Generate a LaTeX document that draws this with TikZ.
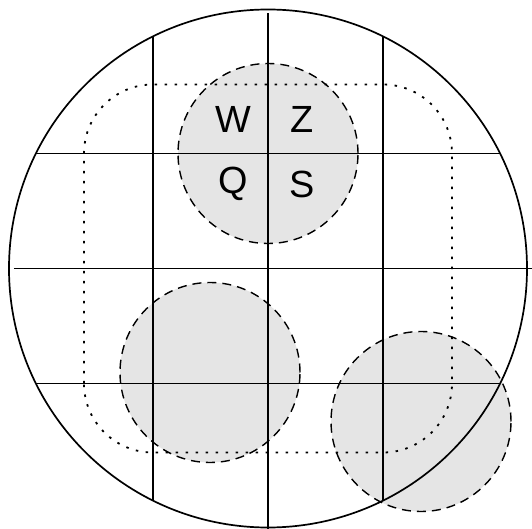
\documentclass[tikz,border=0pt]{standalone}
\usepackage{fontspec}
\setmainfont{Liberation Sans}
\usetikzlibrary{positioning}

\tikzset{
  zone/.style={fill=black!10, draw, dash pattern=on 9bp off 6bp, line width=1.4bp},
  gridline/.style={line width=1.5bp},
  cellname/.style={font=\fontsize{38}{40}\selectfont, inner sep=0pt},
}

\begin{document}
\begin{tikzpicture}[x=1bp, y=1bp]
\useasboundingbox (-268,-260.5) rectangle (264,268.5);
% shaded zones
\draw[zone] (0,115) circle (90);
\draw[zone] (-58,-104) circle (90);
\draw[zone] (153,-153) circle (90);
% dotted border
\draw[line width=1.8bp, dash pattern=on 2.5bp off 7.5bp, rounded corners=69bp] (-184,-184) rectangle (184,184);
% grid
\begin{scope}
\clip (0,0) circle (259);
\foreach \g in {-115,115} {
  \draw[gridline] (\g,-259) -- (\g,259);
  \draw[gridline] (-259,\g) -- (259,\g);
}
\end{scope}
\draw[gridline] (-254,0) -- (264,0);
\draw[gridline] (0,255) -- (0,-260.5);
\draw[line width=1.7bp] (0,0) circle (259);
% labels
\node[cellname] (w) at (-35,149.5) {W};
\node[cellname] (z) at (34,149.5) {Z};
\node[cellname] (q) at (-35,84.5) {Q};
\node[cellname] (s) at (34,84.5) {S};
\end{tikzpicture}
\end{document}
